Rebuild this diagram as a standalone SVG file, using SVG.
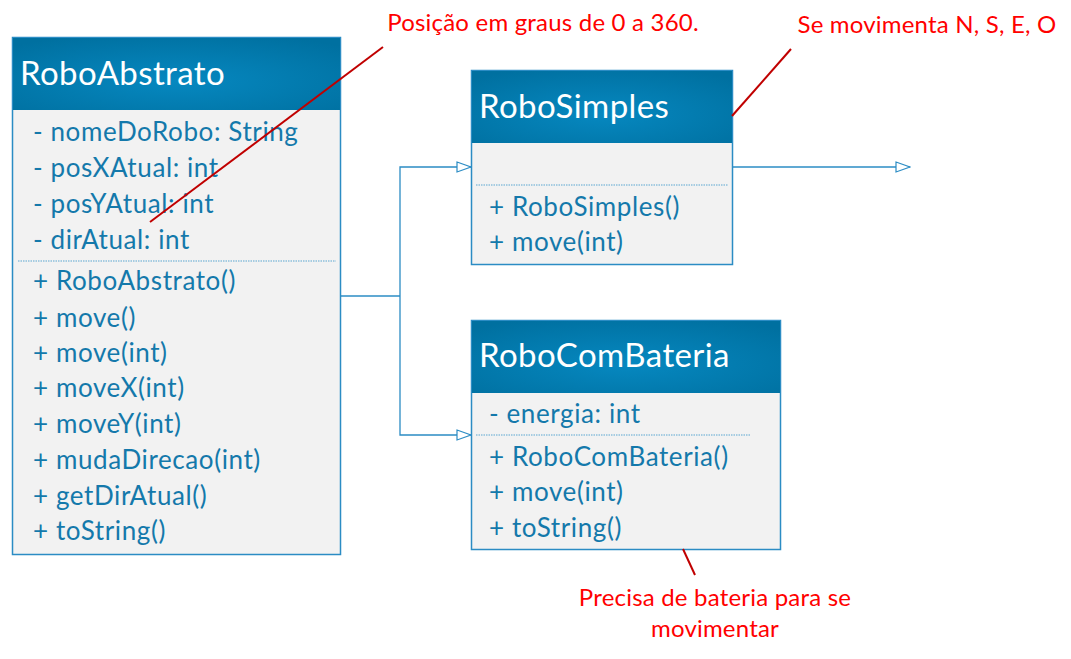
<svg xmlns="http://www.w3.org/2000/svg" width="1071" height="659" viewBox="0 0 1071 659">
<defs>
<radialGradient id="hdr" cx="0.5" cy="0.6" r="0.7">
<stop offset="0" stop-color="#0688c0"/>
<stop offset="1" stop-color="#0070a0"/>
</radialGradient>
<marker id="tri" markerWidth="16" markerHeight="12" refX="15" refY="6" orient="auto" markerUnits="userSpaceOnUse">
<path d="M1,1 L15,6 L1,11 Z" fill="#ffffff" stroke="#2b8cc4" stroke-width="1.2"/>
</marker>
</defs>
<style>
.box{fill:#f2f2f2;stroke:#2b8cc4;stroke-width:1.5}
.head{fill:url(#hdr)}
.title{font-family:Lato,"Liberation Sans",sans-serif;font-size:33px;letter-spacing:0.4px;fill:#ffffff}
.mem{font-family:Lato,"Liberation Sans",sans-serif;font-size:26px;letter-spacing:0.6px;fill:#1479ab}
.sep{stroke:#5aa6d0;stroke-width:1;stroke-dasharray:1.5 1}
.conn{fill:none;stroke:#2b8cc4;stroke-width:1.3}
.note{font-family:Lato,"Liberation Sans",sans-serif;font-size:24px;letter-spacing:0.2px;fill:#ff0000}
.nl{stroke:#c00000;stroke-width:2}
</style>
<rect width="1071" height="659" fill="#ffffff"/>
<g id="connectors">
<polyline class="conn" points="340,296 400,296"/>
<polyline class="conn" points="400,296 400,167 471,167" marker-end="url(#tri)"/>
<polyline class="conn" points="400,296 400,435 471,435" marker-end="url(#tri)"/>
<polyline class="conn" points="732,167 910,167" marker-end="url(#tri)"/>
</g>
<g id="RoboAbstrato">
<rect class="box" x="12.5" y="37.5" width="328" height="517"/>
<rect class="head" x="13" y="38" width="327" height="72"/>
<text class="title" x="20" y="85">RoboAbstrato</text>
<text class="mem" x="33" y="141">- nomeDoRobo: String</text>
<text class="mem" x="33" y="177">- posXAtual: int</text>
<text class="mem" x="33" y="213">- posYAtual: int</text>
<text class="mem" x="33" y="249">- dirAtual: int</text>
<line class="sep" x1="18" y1="261" x2="336" y2="261"/>
<text class="mem" x="33" y="290">+ RoboAbstrato()</text>
<text class="mem" x="33" y="327">+ move()</text>
<text class="mem" x="33" y="362">+ move(int)</text>
<text class="mem" x="33" y="397">+ moveX(int)</text>
<text class="mem" x="33" y="433">+ moveY(int)</text>
<text class="mem" x="33" y="469">+ mudaDirecao(int)</text>
<text class="mem" x="33" y="505">+ getDirAtual()</text>
<text class="mem" x="33" y="540">+ toString()</text>
</g>
<g id="RoboSimples">
<rect class="box" x="471.5" y="70.5" width="261" height="194"/>
<rect class="head" x="472" y="71" width="260" height="72"/>
<text class="title" x="479" y="118">RoboSimples</text>
<line class="sep" x1="476" y1="185" x2="728" y2="185"/>
<text class="mem" x="489" y="216">+ RoboSimples()</text>
<text class="mem" x="489" y="251">+ move(int)</text>
</g>
<g id="RoboComBateria">
<rect class="box" x="471.5" y="320.5" width="309" height="229"/>
<rect class="head" x="472" y="321" width="308" height="72"/>
<text class="title" x="479" y="367">RoboComBateria</text>
<text class="mem" x="489" y="423">- energia: int</text>
<line class="sep" x1="476" y1="435" x2="750" y2="435"/>
<text class="mem" x="489" y="466">+ RoboComBateria()</text>
<text class="mem" x="489" y="501">+ move(int)</text>
<text class="mem" x="489" y="537">+ toString()</text>
</g>
<g id="notes">
<line class="nl" x1="383" y1="47" x2="150" y2="222"/>
<text class="note" x="543" y="31" text-anchor="middle">Posição em graus de 0 a 360.</text>
<line class="nl" x1="791" y1="49" x2="732" y2="116"/>
<text class="note" x="927" y="33" text-anchor="middle">Se movimenta N, S, E, O</text>
<line class="nl" x1="683" y1="549" x2="695" y2="575"/>
<text class="note" x="715" y="606" text-anchor="middle">Precisa de bateria para se</text>
<text class="note" x="715" y="637" text-anchor="middle">movimentar</text>
</g>
</svg>
